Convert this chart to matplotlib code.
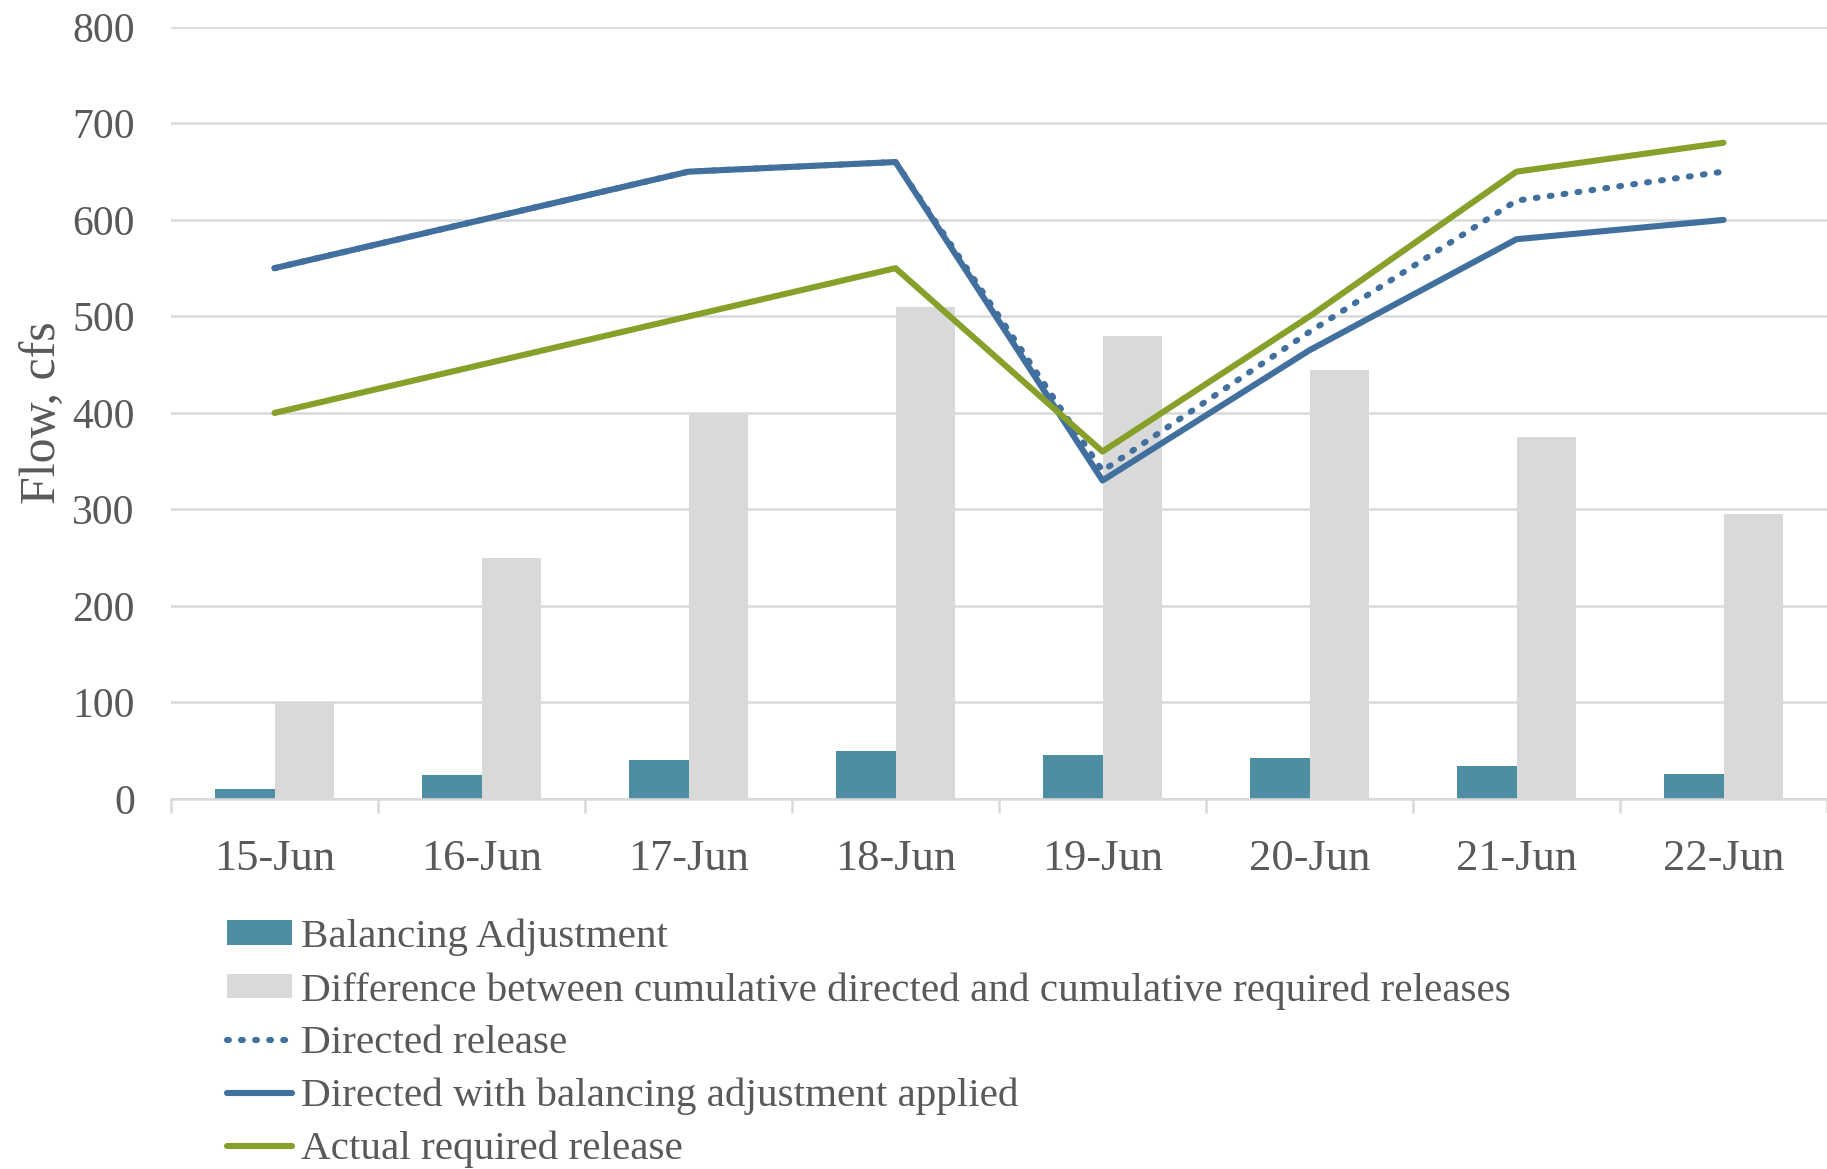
import matplotlib
matplotlib.use("Agg")
import matplotlib.pyplot as plt
import numpy as np

# data
dates = ["15-Jun", "16-Jun", "17-Jun", "18-Jun", "19-Jun", "20-Jun", "21-Jun", "22-Jun"]
balancing = [10, 25, 40, 50, 46, 42, 34, 26]
difference = [100, 250, 400, 510, 480, 445, 375, 295]
directed = [550, 600, 650, 660, 340, 484, 620, 650]
directed_bal = [550, 600, 650, 660, 330, 465, 580, 600]
actual = [400, 450, 500, 550, 360, 500, 650, 680]

labels = ["Balancing Adjustment",
          "Difference between cumulative directed and cumulative required releases",
          "Directed release",
          "Directed with balancing adjustment applied",
          "Actual required release"]

teal = "#4e8ea2"
gray = "#d9d9d9"
blue = "#41709f"
green = "#86a02a"
txt = "#595959"

plt.rcParams['font.family'] = ['Liberation Serif', 'DejaVu Serif']

fig = plt.figure(figsize=(18.27, 11.69), dpi=100)
ax = fig.add_axes([0.0936, 0.3165, 0.9064, 0.6605])

x = np.arange(len(dates))
w = 0.287
b1 = ax.bar(x - w / 2, balancing, w, color=teal, label=labels[0], zorder=2)
b2 = ax.bar(x + w / 2, difference, w, color=gray, label=labels[1], zorder=2)
l1, = ax.plot(x, directed, color=blue, lw=4.4, ls=(0, (0.3, 2.0)), dash_capstyle='round',
              label=labels[2], zorder=3)
l2, = ax.plot(x, directed_bal, color=blue, lw=4.4, solid_capstyle='round', label=labels[3], zorder=4)
l3, = ax.plot(x, actual, color=green, lw=4.4, solid_capstyle='round', label=labels[4], zorder=5)

ax.set_xlim(-0.5, len(dates) - 0.5)
ax.set_ylim(0, 800)
ax.set_yticks(range(0, 801, 100))
ax.yaxis.grid(True, color=gray, lw=1.8, zorder=0)
ax.set_axisbelow(True)

for s in ["top", "right", "left"]:
    ax.spines[s].set_visible(False)
ax.spines["bottom"].set_color(gray)
ax.spines["bottom"].set_linewidth(1.8)

ax.set_xticks(x)
ax.set_xticklabels(dates)
ax.set_xticks(np.arange(-0.5, len(dates), 1.0), minor=True)
ax.tick_params(axis='x', which='major', length=0, pad=29, labelsize=32, labelcolor=txt)
ax.tick_params(axis='x', which='minor', length=10, width=1.8, color=gray)
ax.tick_params(axis='y', length=0, pad=26, labelsize=30, labelcolor=txt)

ax.set_ylabel("Flow, cfs", fontsize=36, color=txt, labelpad=4)

ax.legend([b1, b2, l1, l2, l3], labels,
          loc="upper left", bbox_to_anchor=(0.124, 0.214), bbox_transform=fig.transFigure,
          frameon=False, fontsize=29.6, handlelength=1.6, handleheight=0.55,
          handletextpad=0.2, labelspacing=0.38, borderpad=0, borderaxespad=0,
          labelcolor=txt)

fig.savefig("out.png", dpi=100)
